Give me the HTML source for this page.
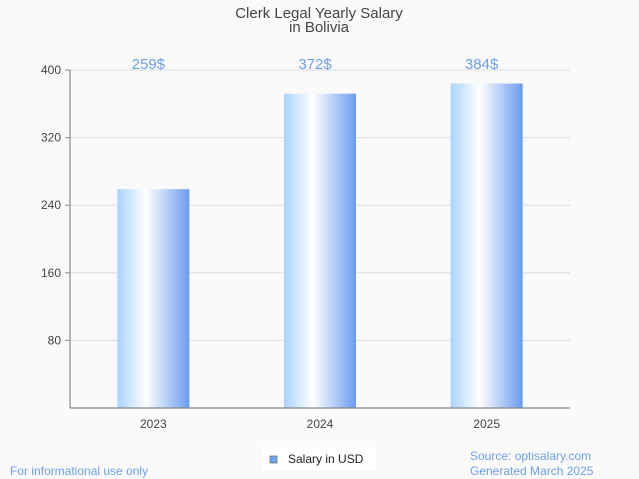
<!DOCTYPE html>
<html><head><meta charset="utf-8"><style>
html,body{margin:0;padding:0;background:#fafafa;}
svg{display:block;font-family:"Liberation Sans",sans-serif;}
</style></head><body>
<svg id="c" width="639" height="479" viewBox="0 0 639 479">
<defs><linearGradient id="g" x1="0" x2="1" y1="0" y2="0">
<stop offset="0" stop-color="#a9d4ff"/><stop offset="0.4" stop-color="#ffffff"/><stop offset="1" stop-color="#6a9bf0"/>
</linearGradient></defs>
<rect width="639" height="479" fill="#fafafa"/>
<text x="319" y="18" text-anchor="middle" font-size="15" fill="#444">Clerk Legal Yearly Salary</text>
<text x="319" y="32" text-anchor="middle" font-size="15" fill="#444">in Bolivia</text>
<g id="grid"></g><g id="bars"></g>
<line x1="70" y1="70" x2="70" y2="408" stroke="#888" stroke-width="1.2"/>
<line x1="70" y1="408" x2="570" y2="408" stroke="#888" stroke-width="1.2"/>
<g>
<rect x="262" y="447" width="114" height="23" fill="#fff"/>
<rect x="270" y="456" width="7" height="7" fill="#6ea6ee" stroke="#666" stroke-width="0.7"/>
<text x="288" y="463" font-size="12" fill="#222">Salary in USD</text>
</g>
<text x="10" y="475" font-size="12" fill="#6d9eeb">For informational use only</text>
<text x="470" y="460" font-size="12" fill="#6d9eeb">Source: optisalary.com</text>
<text x="470" y="475" font-size="12" fill="#6d9eeb">Generated March 2025</text>
</svg>
<script>
const categories = ["2023","2024","2025"];
const values = [259,372,384];
const valueLabels = ["259$","372$","384$"];
const yTicks = [80,160,240,320,400];
const NS="http://www.w3.org/2000/svg";
const x0=70,x1=570,yb=408,yt=70,ymax=400;
const y=v=>yb-(v/ymax)*(yb-yt);
const bw=(x1-x0)/categories.length;
const xc=i=>x0+bw*(i+0.5);
function mk(t,a,p){const e=document.createElementNS(NS,t);for(const k in a)e.setAttribute(k,a[k]);p.appendChild(e);return e;}
const grid=document.getElementById('grid'),bars=document.getElementById('bars');
yTicks.forEach(v=>{
 const l=mk('line',{x1:x0,x2:x1,y1:y(v),y2:y(v),stroke:'#ddd','stroke-width':1},grid);
 
 
 const tk=mk('line',{x1:x0-5,x2:x0,y1:y(v),y2:y(v),stroke:'#888'},grid);
 
 
 const t=mk('text',{x:x0-9,y:y(v)+4,'text-anchor':'end','font-size':12,fill:'#444'},grid);
 t.textContent=v;
 
 
});
categories.forEach((c,i)=>{
 const w=72;
 const r=mk('rect',{x:xc(i)-w/2,y:y(values[i]),width:w,height:yb-y(values[i]),fill:'url(#g)'},bars);
 
 
 const t=mk('text',{x:xc(i),y:424+4,'text-anchor':'middle','font-size':12,fill:'#444'},bars);
 t.textContent=c;
 
 
 const v=mk('text',{x:xc(i)-5,y:69,'text-anchor':'middle','font-size':15,fill:'#6d9eeb'},bars);
 v.textContent=valueLabels[i];
 
 
});
</script>
</body></html>
